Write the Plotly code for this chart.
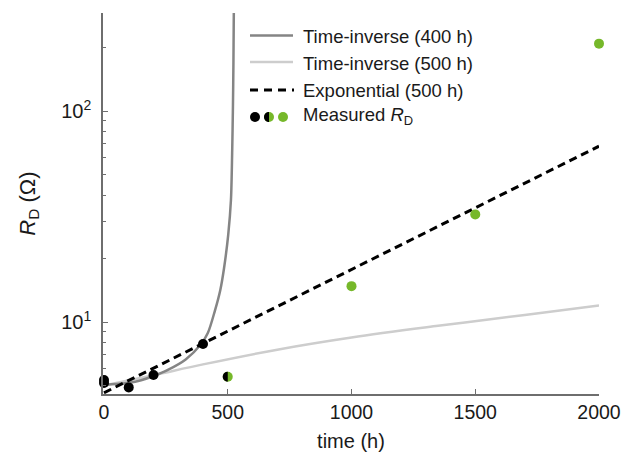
import numpy as np
import plotly.graph_objects as go

# ---- data ----
t_black = [0, 0, 100, 200, 400]
r_black = [5.31, 5.14, 4.90, 5.61, 7.87]
t_half = [500]
r_half = [5.51]
t_green = [1000, 1500, 2000]
r_green = [14.8, 32.4, 209]

t_ti400 = [0, 50, 100, 150, 200, 260, 330, 390, 420, 448, 470, 485, 502, 513, 518, 521, 523, 524.5]
r_ti400 = [5.05, 5.08, 5.15, 5.3, 5.55, 5.95, 6.65, 7.8, 8.9, 11.3, 14.2, 18.0, 26.0, 38.0, 65.0, 105.0, 170.0, 292.0]

t_ti500 = [0, 200, 400, 700, 1000, 1350, 1700, 2000]
r_ti500 = [5.0, 5.6, 6.3, 7.4, 8.45, 9.6, 10.8, 12.0]

t_exp = [0, 2000]
r_exp = [4.62, 68.2]

x_ticks = [0, 500, 1000, 1500, 2000]
y_ticks = [10, 100]
y_ticktext = ["10<sup>1</sup>", "10<sup>2</sup>"]

legend_labels = ["Time-inverse (400 h)", "Time-inverse (500 h)",
                 "Exponential (500 h)", "Measured <i>R</i><sub>D</sub>"]

# ---- style ----
DARK = "#858585"
LIGHT = "#cdcdcd"
GREEN = "#76b82a"
AXIS = "#6e6e6e"
FONT = "Liberation Sans, Arial, sans-serif"

OFF = 0  # body margin removed via post_script
W, H = 622, 454
ML, MT = 103, 13
PW, PH = 496, 381
MR, MB = W - ML - PW, H - MT - PH


def xp(px):
    return (px - OFF - ML) / PW


def yp(py):
    return (H - MB - (py - OFF)) / PH


def half_path(r=5.0, n=20):
    pts = [(r * np.cos(a), r * np.sin(a)) for a in np.linspace(np.pi / 2, 3 * np.pi / 2, n)]
    return "M " + " L ".join(f"{x:.2f},{y:.2f}" for x, y in pts) + " Z"


fig = go.Figure()
fig.add_trace(go.Scatter(x=t_ti500, y=r_ti500, mode="lines",
                         line=dict(color=LIGHT, width=2.5, shape="spline", smoothing=1),
                         name=legend_labels[1]))
fig.add_trace(go.Scatter(x=t_ti400, y=r_ti400, mode="lines",
                         line=dict(color=DARK, width=2.5, shape="spline", smoothing=0.8),
                         name=legend_labels[0]))
fig.add_trace(go.Scatter(x=t_exp, y=r_exp, mode="lines",
                         line=dict(color="black", width=3, dash="8px,5px"), name=legend_labels[2]))
fig.add_trace(go.Scatter(x=t_half, y=r_half, mode="markers", cliponaxis=False,
                         marker=dict(color=GREEN, size=10, line=dict(width=0))))
fig.add_trace(go.Scatter(x=t_black, y=r_black, mode="markers", cliponaxis=False,
                         marker=dict(color="black", size=10, line=dict(width=0))))
fig.add_trace(go.Scatter(x=t_green, y=r_green, mode="markers", cliponaxis=False,
                         marker=dict(color=GREEN, size=10, line=dict(width=0))))

shapes = []
# black left half of the 500 h point
shapes.append(dict(type="path", xref="x", yref="y", xsizemode="pixel", ysizemode="pixel",
                   xanchor=t_half[0], yanchor=r_half[0], path=half_path(),
                   fillcolor="black", line=dict(width=0), layer="above"))

# ---- manual legend (positions in page pixels) ----
rows_line = [35.5, 62, 90, 117]
rows_text = [36.5, 63, 90, 116.5]
lx0, lx1 = 250, 293
shapes.append(dict(type="line", xref="paper", yref="paper", x0=xp(lx0), x1=xp(lx1),
                   y0=yp(rows_line[0]), y1=yp(rows_line[0]), line=dict(color=DARK, width=2.5)))
shapes.append(dict(type="line", xref="paper", yref="paper", x0=xp(lx0), x1=xp(lx1),
                   y0=yp(rows_line[1]), y1=yp(rows_line[1]), line=dict(color=LIGHT, width=2.5)))
shapes.append(dict(type="line", xref="paper", yref="paper", x0=xp(lx0), x1=xp(lx1 + 1),
                   y0=yp(rows_line[2]), y1=yp(rows_line[2]),
                   line=dict(color="black", width=3, dash="8px,6px")))
dots = [(255, "black"), (269, GREEN), (283, GREEN)]
for dx, col in dots:
    shapes.append(dict(type="circle", xref="paper", yref="paper", xsizemode="pixel", ysizemode="pixel",
                       xanchor=xp(dx), yanchor=yp(rows_line[3]), x0=-5, x1=5, y0=-5, y1=5,
                       fillcolor=col, line=dict(width=0)))
shapes.append(dict(type="path", xref="paper", yref="paper", xsizemode="pixel", ysizemode="pixel",
                   xanchor=xp(269), yanchor=yp(rows_line[3]), path=half_path(),
                   fillcolor="black", line=dict(width=0)))

annotations = []
for lab, ry in zip(legend_labels, rows_text):
    annotations.append(dict(text=lab, xref="paper", yref="paper", x=xp(301), y=yp(ry),
                            xanchor="left", yanchor="middle", showarrow=False,
                            font=dict(family=FONT, size=18.5, color="#1a1a1a")))

fig.update_layout(
    width=W, height=H, margin=dict(l=ML, r=MR, t=MT, b=MB, autoexpand=False),
    plot_bgcolor="white", paper_bgcolor="white", showlegend=False,
    font=dict(family=FONT, size=20, color="#1a1a1a"),
    shapes=shapes, annotations=annotations,
)
fig.update_xaxes(range=[-4, 2000], tickvals=x_ticks, ticks="inside", ticklen=5, tickwidth=1,
                 tickcolor=AXIS, showline=True, linecolor=AXIS, linewidth=1.5,
                 showgrid=False, zeroline=False, automargin=False,
                 tickfont=dict(size=19.5),
                 title=dict(text="time (h)", font=dict(size=20), standoff=12))
fig.update_yaxes(type="log", range=[np.log10(4.56), np.log10(292)], tickvals=y_ticks,
                 ticktext=y_ticktext, ticks="inside", ticklen=5, tickwidth=1, tickcolor=AXIS,
                 minor=dict(ticks="inside", ticklen=3, dtick="D1", tickcolor=AXIS, showgrid=False),
                 showline=True, linecolor=AXIS, linewidth=1.5, showgrid=False, zeroline=False,
                 automargin=False, ticklabelstandoff=6,
                 title=dict(text="<i>R</i><sub>D</sub> (Ω)", font=dict(size=22), standoff=20))

fig.write_html("out.html", config={"displayModeBar": False},
               post_script="document.body.style.margin='0';document.body.style.overflow='hidden';")
